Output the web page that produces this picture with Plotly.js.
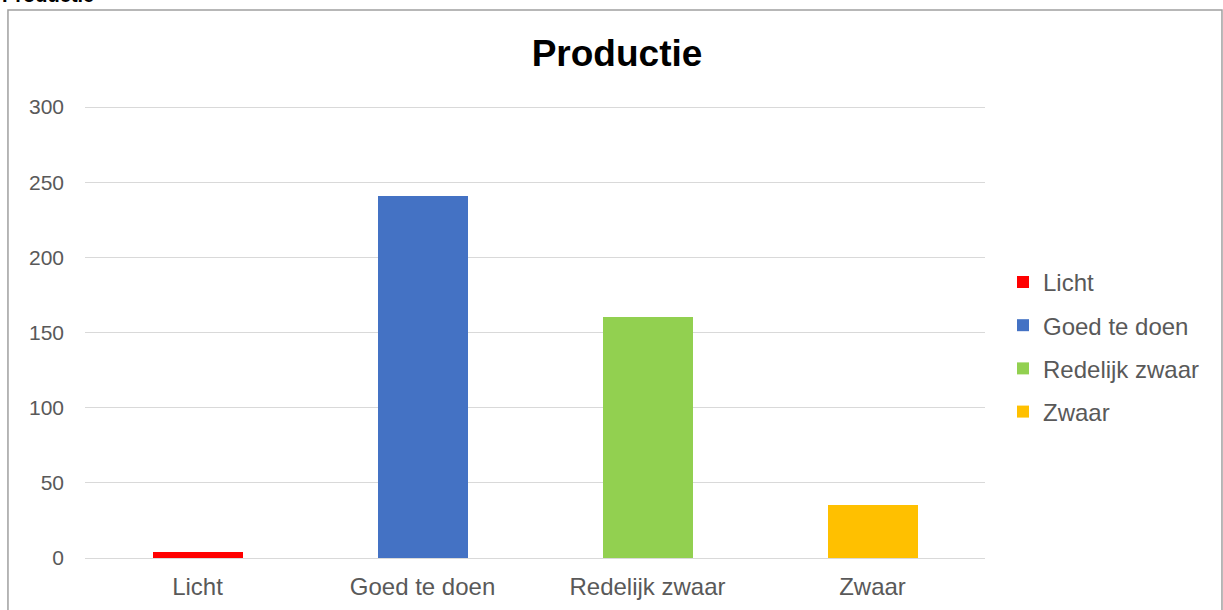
<!DOCTYPE html>
<html>
<head>
<meta charset="utf-8">
<script src="https://cdn.plot.ly/plotly-3.0.1.min.js"></script>
<style>
  body { margin: 0; background: #fff; }
  #chart { width: 1223px; height: 610px; }
</style>
</head>
<body>
<div id="chart"></div>
<script>
var categories = ['Licht', 'Goed te doen', 'Redelijk zwaar', 'Zwaar'];
var values = [4, 241, 160, 35];
var colors = ['#ff0000', '#4472c4', '#92d050', '#ffc000'];

var data = categories.map(function (cat, i) {
    return {
        x: [cat],
        y: [values[i]],
        name: cat,
        type: 'bar',
        legendgroup: 'g' + i,
        marker: { color: colors[i] },
        hoverinfo: 'x+y'
    };
});

var layout = {
    width: 1223,
    height: 610,
    margin: { l: 85, r: 238, t: 104, b: 52 },
    paper_bgcolor: '#ffffff',
    plot_bgcolor: '#ffffff',
    font: { family: 'Liberation Sans, Arial, sans-serif', size: 21, color: '#595959' },
    barmode: 'stack',
    bargap: 0.6,
    title: {
        text: '<b>Productie</b>',
        font: { size: 37, color: '#000000' },
        x: 0.5045,
        xanchor: 'center',
        y: 0.913,
        yanchor: 'middle'
    },
    xaxis: {
        type: 'category',
        categoryarray: categories,
        showgrid: false,
        showline: true,
        linecolor: '#d9d9d9',
        linewidth: 1,
        ticks: '',
        ticklabelstandoff: 7,
        tickfont: { size: 24, color: '#595959' }
    },
    yaxis: {
        range: [0, 302],
        tickvals: [0, 50, 100, 150, 200, 250, 300],
        showgrid: true,
        gridcolor: '#d9d9d9',
        gridwidth: 1,
        zeroline: false,
        showline: false,
        ticks: '',
        ticklabelstandoff: 20,
        tickfont: { size: 21, color: '#595959' }
    },
    showlegend: true,
    legend: {
        x: 1.02,
        xanchor: 'left',
        y: 0.465,
        yanchor: 'middle',
        traceorder: 'grouped',
        tracegroupgap: 9,
        font: { size: 24, color: '#595959' },
        bgcolor: 'rgba(0,0,0,0)'
    },
    shapes: [{
        type: 'rect',
        xref: 'paper', yref: 'paper',
        x0: -0.0856, x1: 1.2633,
        y0: -0.3, y1: 1.207,
        line: { color: '#a0a0a0', width: 1.5 },
        fillcolor: 'rgba(0,0,0,0)'
    }],
    annotations: [{
        text: '<b>Productie</b>',
        xref: 'paper', yref: 'paper',
        x: -0.0944, xanchor: 'left',
        y: 1.207, yanchor: 'bottom',
        yshift: 2,
        showarrow: false,
        font: { size: 20, color: '#000000' }
    }]
};

Plotly.newPlot('chart', data, layout, { displayModeBar: false, staticPlot: true });
</script>
</body>
</html>
